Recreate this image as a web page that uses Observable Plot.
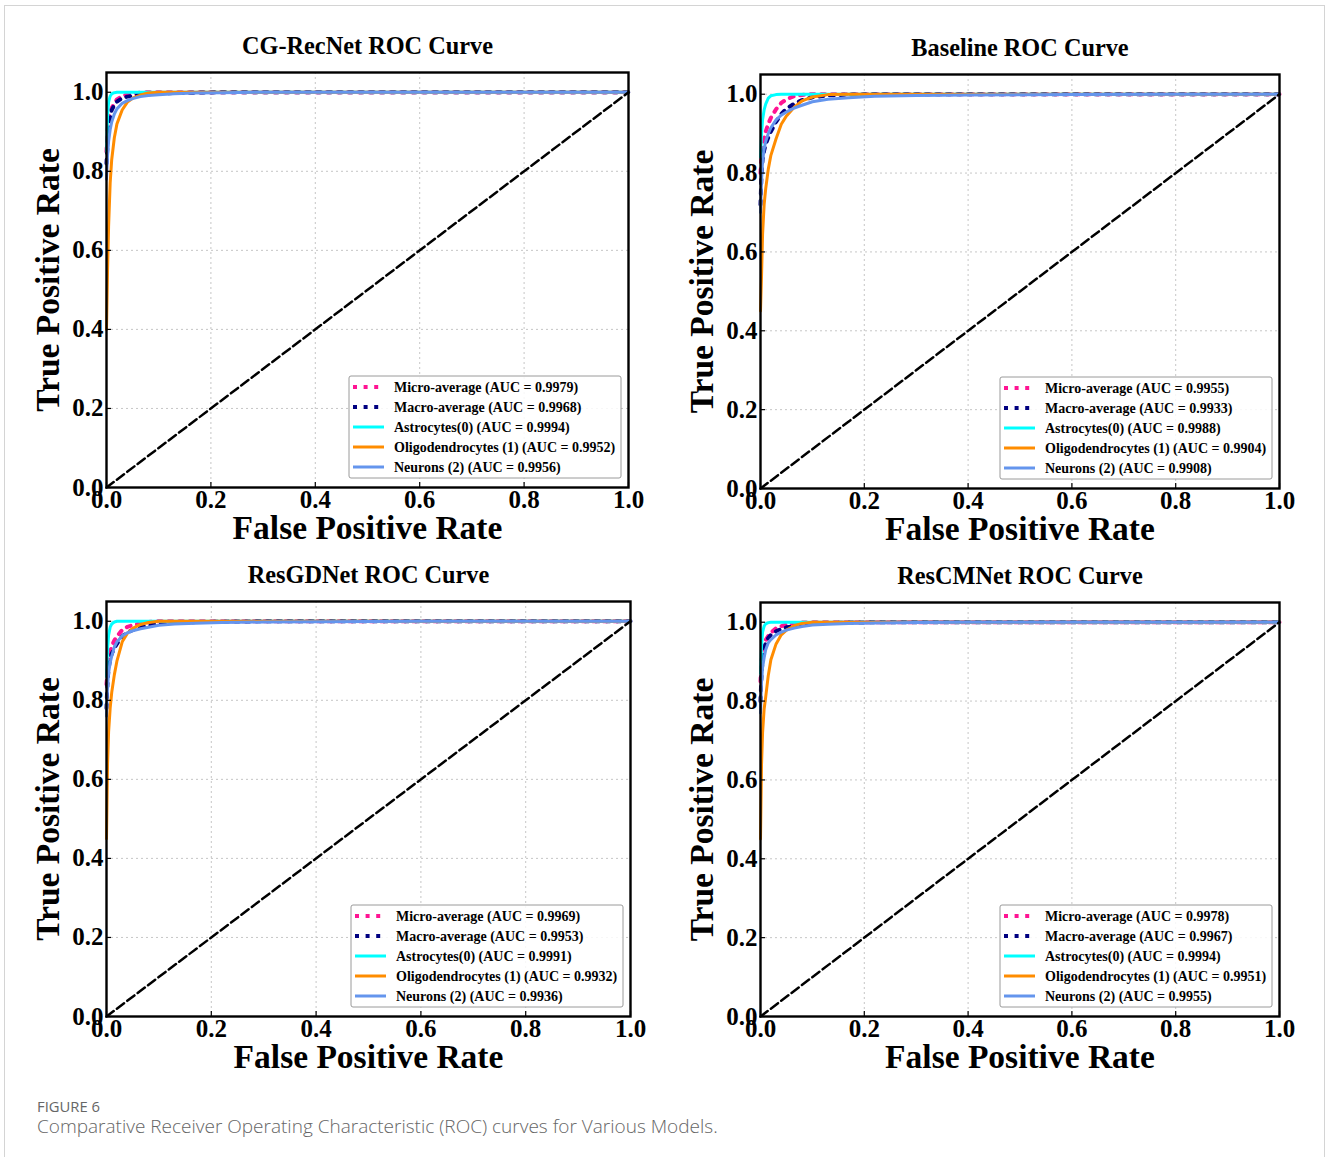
<!DOCTYPE html>
<html><head><meta charset="utf-8">
<script src="https://cdn.jsdelivr.net/npm/d3@7"></script>
<script src="https://cdn.jsdelivr.net/npm/@observablehq/plot@0.6"></script>
<style>
html,body{margin:0;padding:0;background:#fff;}
#page{position:relative;width:1328px;height:1157px;overflow:hidden;background:#fff;}
#border{position:absolute;left:4px;top:5px;width:1321px;height:1220px;border:1px solid #d4d4d4;box-sizing:border-box;}
.panel{position:absolute;}
.panel svg text{font-weight:bold;}
#fig{position:absolute;left:37px;top:1097px;font-family:"Open Sans";font-size:14.8px;color:#666;line-height:18px;}
#cap{position:absolute;left:37px;top:1116px;font-family:"Open Sans";font-size:19px;font-weight:300;color:#666;line-height:20px;}
</style></head><body>
<div id="page"><div id="border"></div>
<div id="fig">FIGURE 6</div>
<div id="cap">Comparative Receiver Operating Characteristic (ROC) curves for Various Models.</div>
</div>
<script>
// ---- data ----
const fprGrid = [0, 0.002, 0.004, 0.007, 0.01, 0.015, 0.02, 0.03, 0.04, 0.05, 0.065, 0.08, 0.1, 0.13, 0.17, 0.22, 0.3, 0.4, 0.6, 0.8, 1.0];
const seriesNames = ["Micro-average", "Macro-average", "Astrocytes(0)", "Oligodendrocytes (1)", "Neurons (2)"];
const seriesColors = ["#ff1493", "#000080", "#00ffff", "#ff8c00", "#6495ed"];
const modelTitles = ["CG-RecNet ROC Curve", "Baseline ROC Curve", "ResGDNet ROC Curve", "ResCMNet ROC Curve"];
const tickValues = [0, 0.2, 0.4, 0.6, 0.8, 1.0];
const chanceLine = [0, 1];

const cgRecNetAuc = [0.9979, 0.9968, 0.9994, 0.9952, 0.9956];
const cgRecNetMicro  = [0.85,0.90,0.935,0.95,0.96,0.972,0.982,0.99,0.995,0.997,0.999,1,1,1,1,1,1,1,1,1,1];
const cgRecNetMacro  = [0.82,0.87,0.90,0.935,0.955,0.968,0.976,0.985,0.989,0.991,0.993,0.995,0.997,0.998,0.999,1,1,1,1,1,1];
const cgRecNetAstro  = [0.85,0.94,0.975,0.99,0.996,0.999,1,1,1,1,1,1,1,1,1,1,1,1,1,1,1];
const cgRecNetOligo  = [0.40,0.55,0.66,0.77,0.83,0.885,0.92,0.955,0.975,0.985,0.993,0.998,1,1,1,1,1,1,1,1,1];
const cgRecNetNeuron = [0.78,0.84,0.875,0.905,0.925,0.945,0.958,0.972,0.979,0.984,0.989,0.992,0.994,0.996,0.998,0.999,1,1,1,1,1];

const baselineAuc = [0.9955, 0.9933, 0.9988, 0.9904, 0.9908];
const baselineMicro  = [0.80,0.845,0.87,0.89,0.905,0.925,0.94,0.962,0.978,0.987,0.995,0.998,1,1,1,1,1,1,1,1,1];
const baselineMacro  = [0.72,0.80,0.835,0.857,0.873,0.89,0.905,0.93,0.95,0.963,0.976,0.985,0.992,0.997,0.999,1,1,1,1,1,1];
const baselineAstro  = [0.84,0.90,0.935,0.96,0.975,0.99,0.996,0.999,1,1,1,1,1,1,1,1,1,1,1,1,1];
const baselineOligo  = [0.45,0.54,0.645,0.72,0.76,0.81,0.845,0.887,0.924,0.945,0.967,0.983,0.993,0.999,1,1,1,1,1,1,1];
const baselineNeuron = [0.70,0.78,0.83,0.862,0.88,0.90,0.915,0.935,0.947,0.955,0.965,0.972,0.981,0.987,0.991,0.995,0.997,0.998,0.999,1,1];

const resGDNetAuc = [0.9969, 0.9953, 0.9991, 0.9932, 0.9936];
const resGDNetMicro  = [0.84,0.875,0.90,0.922,0.937,0.952,0.962,0.978,0.986,0.99,0.995,0.998,1,1,1,1,1,1,1,1,1];
const resGDNetMacro  = [0.78,0.85,0.88,0.905,0.918,0.932,0.943,0.962,0.972,0.978,0.985,0.989,0.993,0.996,0.998,0.999,1,1,1,1,1];
const resGDNetAstro  = [0.86,0.93,0.965,0.985,0.993,0.998,1,1,1,1,1,1,1,1,1,1,1,1,1,1,1];
const resGDNetOligo  = [0.45,0.64,0.72,0.78,0.82,0.865,0.90,0.948,0.97,0.982,0.992,0.997,1,1,1,1,1,1,1,1,1];
const resGDNetNeuron = [0.76,0.835,0.87,0.895,0.912,0.935,0.948,0.963,0.971,0.976,0.981,0.985,0.99,0.993,0.995,0.997,0.998,0.999,1,1,1];

const resCMNetAuc = [0.9978, 0.9967, 0.9994, 0.9951, 0.9955];
const resCMNetMicro  = [0.85,0.90,0.925,0.945,0.955,0.965,0.973,0.985,0.99,0.994,0.997,0.999,1,1,1,1,1,1,1,1,1];
const resCMNetMacro  = [0.80,0.87,0.905,0.93,0.947,0.96,0.968,0.977,0.983,0.987,0.99,0.993,0.996,0.998,0.999,1,1,1,1,1,1];
const resCMNetAstro  = [0.87,0.94,0.975,0.99,0.996,0.999,1,1,1,1,1,1,1,1,1,1,1,1,1,1,1];
const resCMNetOligo  = [0.45,0.64,0.72,0.78,0.81,0.865,0.905,0.945,0.968,0.98,0.991,0.997,1,1,1,1,1,1,1,1,1];
const resCMNetNeuron = [0.77,0.848,0.885,0.91,0.93,0.948,0.956,0.968,0.975,0.98,0.985,0.989,0.993,0.995,0.997,0.998,0.999,1,1,1,1];

// ---- styles / layout ----
const seriesDash = ["4,6.6", "4,6.6", null, null, null];
const seriesWidth = [4, 4, 3, 3, 3];
const serif = "'Liberation Serif', 'Times New Roman', serif";

const panels = [
  {title: modelTitles[0], auc: cgRecNetAuc, tpr: [cgRecNetMicro, cgRecNetMacro, cgRecNetAstro, cgRecNetOligo, cgRecNetNeuron], left: 106, top: 72, w: 522, h: 415},
  {title: modelTitles[1], auc: baselineAuc, tpr: [baselineMicro, baselineMacro, baselineAstro, baselineOligo, baselineNeuron], left: 760, top: 74, w: 519, h: 414},
  {title: modelTitles[2], auc: resGDNetAuc, tpr: [resGDNetMicro, resGDNetMacro, resGDNetAstro, resGDNetOligo, resGDNetNeuron], left: 106, top: 601, w: 524, h: 415},
  {title: modelTitles[3], auc: resCMNetAuc, tpr: [resCMNetMicro, resCMNetMacro, resCMNetAstro, resCMNetOligo, resCMNetNeuron], left: 760, top: 602, w: 519, h: 414}
];

function legendMark(labels) {
  return (index, scales, values, dims) => {
    const g = d3.create("svg:g");
    const bw = 272, bh = 102;
    const x0 = dims.width - dims.marginRight - 7 - bw;
    const y0 = dims.height - dims.marginBottom - 9 - bh;
    g.append("rect").attr("x", x0).attr("y", y0).attr("width", bw).attr("height", bh)
      .attr("rx", 2).attr("fill", "white").attr("fill-opacity", 0.85).attr("stroke", "#9a9a9a").attr("stroke-width", 1);
    labels.forEach((lab, i) => {
      const y = y0 + 11 + i * 20;
      const ln = g.append("line").attr("x1", x0 + 4).attr("x2", x0 + 35).attr("y1", y).attr("y2", y)
        .attr("stroke", seriesColors[i]).attr("stroke-width", seriesWidth[i]);
      if (seriesDash[i]) ln.attr("stroke-dasharray", seriesDash[i]);
      g.append("text").attr("x", x0 + 45).attr("y", y).attr("dy", "0.35em").attr("text-anchor", "start")
        .attr("font-size", 14).attr("font-weight", "bold").attr("font-family", serif).attr("fill", "black").text(lab);
    });
    return g.node();
  };
}

const page = document.getElementById("page");
panels.forEach(p => {
  const mL = 106, mT = 50, mB = 75;
  const W = mL + p.w + 40;
  const H = mT + p.h + mB;
  const rows = [];
  p.tpr.forEach((arr, i) => {
    fprGrid.forEach((f, j) => rows.push({fpr: f, tpr: arr[j], s: i}));
  });
  const labels = seriesNames.map((n, i) => `${n} (AUC = ${p.auc[i].toFixed(4)})`);
  const inner = tickValues.filter(t => t > 0 && t < 1);
  const chart = Plot.plot({
    width: W, height: H,
    marginLeft: mL, marginRight: W - mL - p.w, marginTop: mT, marginBottom: mB,
    style: {fontFamily: serif, color: "black", background: "transparent", overflow: "visible"},
    x: {domain: [0, 1]},
    y: {domain: [0, 1.05]},
    marks: [
      Plot.gridX(inner, {stroke: "#b8b8b8", strokeOpacity: 1, strokeWidth: 0.8, strokeDasharray: "2,3"}),
      Plot.gridY(tickValues.filter(t => t > 0), {stroke: "#b8b8b8", strokeOpacity: 1, strokeWidth: 0.8, strokeDasharray: "2,3"}),
      ...seriesNames.map((n, i) => Plot.line(rows.filter(r => r.s === i), {
        x: "fpr", y: "tpr", stroke: seriesColors[i], strokeWidth: seriesWidth[i],
        strokeDasharray: seriesDash[i] || undefined, strokeLinejoin: "round"
      })),
      Plot.line(chanceLine, {x: d => d, y: d => d, stroke: "black", strokeWidth: 2.5, strokeDasharray: "9,4"}),
      legendMark(labels),
      Plot.frame({stroke: "black", strokeWidth: 2.4}),
      Plot.tickX(tickValues, {x: d => d, stroke: "black", strokeWidth: 1.2, insetTop: p.h - 5}),
      Plot.tickY(tickValues, {y: d => d, stroke: "black", strokeWidth: 1.2, insetRight: p.w - 5}),
      Plot.axisX(tickValues, {tickSize: 0, tickPadding: 3, fontSize: 25, fontWeight: "bold", tickFormat: d => d.toFixed(1), label: null}),
      Plot.axisY(tickValues, {tickSize: 0, tickPadding: 3, fontSize: 25, fontWeight: "bold", tickFormat: d => d.toFixed(1), label: null}),
      Plot.text([p.title], {frameAnchor: "top", dy: -26, lineAnchor: "middle", fontSize: 24.3, fontWeight: "bold"}),
      Plot.text(["False Positive Rate"], {frameAnchor: "bottom", dy: 41, lineAnchor: "middle", fontSize: 33.5, fontWeight: "bold"}),
      Plot.text(["True Positive Rate"], {frameAnchor: "left", dx: -58, rotate: -90, textAnchor: "middle", lineAnchor: "middle", fontSize: 33.5, fontWeight: "bold"})
    ]
  });
  const div = document.createElement("div");
  div.className = "panel";
  div.style.left = (p.left - mL) + "px";
  div.style.top = (p.top - mT) + "px";
  div.appendChild(chart);
  page.appendChild(div);
});
</script>
</body></html>
